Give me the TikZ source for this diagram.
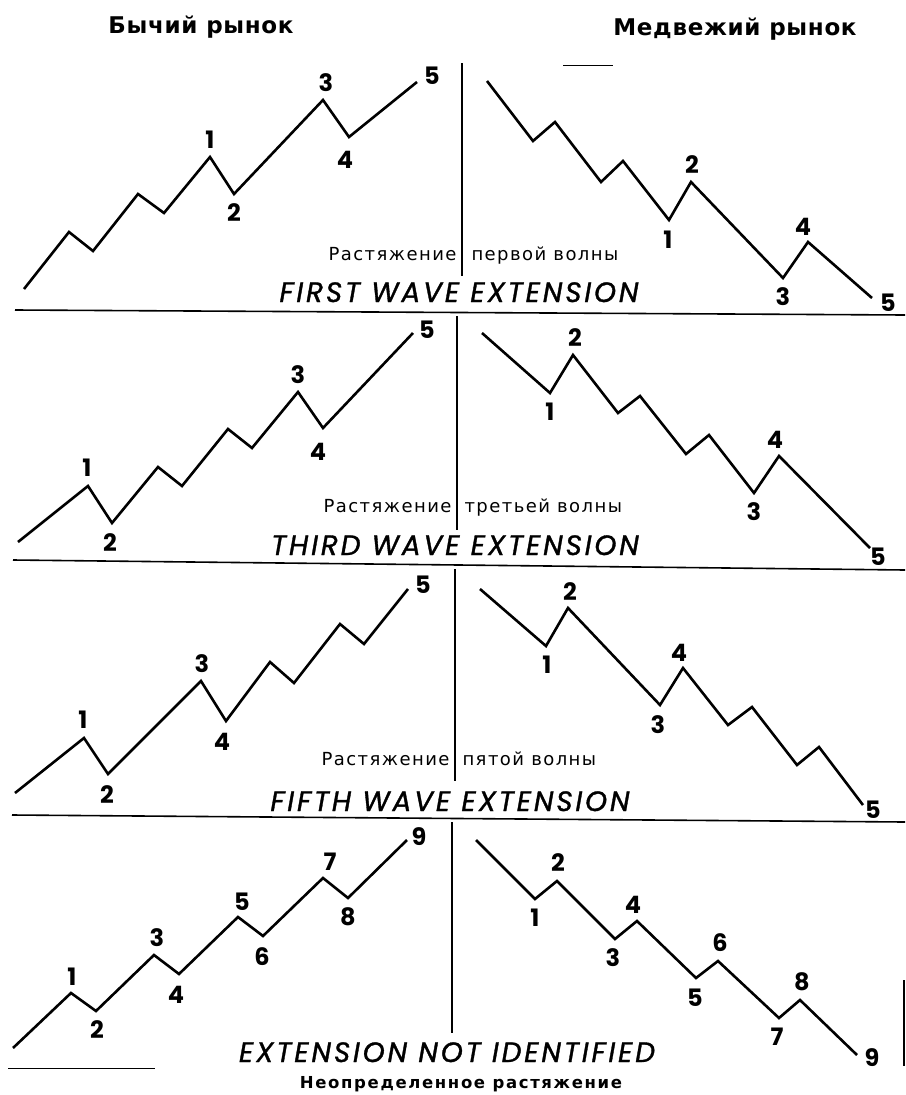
\documentclass[tikz,border=0pt]{standalone}
\usepackage{fontspec}
\setmainfont{Liberation Sans}
\newfontfamily\headfont[LetterSpace=3]{DejaVu Sans}
\newfontfamily\rufont[LetterSpace=8]{DejaVu Sans}
\newfontfamily\footfont[LetterSpace=10]{DejaVu Sans}
\newfontfamily\geofont{Poppins}
\newfontfamily\engfont[LetterSpace=10, ItalicFeatures={FakeBold=1.2}]{Poppins}
\usetikzlibrary{positioning}

\begin{document}
\begin{tikzpicture}[
    x=1pt, y=-1pt,
    wave/.style={line width=2.6pt, line join=miter},
    rule/.style={line width=1.6pt},
    num/.style={font=\geofont\fontsize{24}{24}\selectfont\bfseries, inner sep=0pt},
    head/.style={font=\headfont\fontsize{23}{23}\selectfont\bfseries, anchor=base},
    rus/.style={font=\rufont\fontsize{18}{18}\selectfont},
    eng/.style={font=\engfont\fontsize{28}{28}\selectfont\itshape, anchor=base}
]
  \useasboundingbox (0,0) rectangle (905,1095);

  % Top: market headings
  \node[head] (bull) at (201,33) {Бычий рынок};
  \node[head] (bear) at (735,35) {Медвежий рынок};

  % Row 1: first wave extension
  \draw[wave] (24,289) -- (69,232) -- (93,251) -- (138,194) -- (164,213) -- (210,157)
    -- (234,194) -- (323,100) -- (349,137) -- (417,82);
  \foreach \n/\x/\y in {1/210/140, 2/234/213, 3/326/83, 4/345/160, 5/432/76}
    \node[num] (up1-\n) at (\x,\y) {\n};
  \draw[wave] (487,81) -- (533,141) -- (555,122) -- (601,182) -- (623,161) -- (669,220)
    -- (691,182) -- (783,278) -- (808,242) -- (872,298);
  \foreach \n/\x/\y in {1/668/240, 2/692/165, 3/783/297, 4/803/227, 5/888/303}
    \node[num] (dn1-\n) at (\x,\y) {\n};
  \draw[rule] (462,63) -- (462,276);
  \draw[line width=0.8pt] (563,65) -- (613,65);
  \node[rus, anchor=base east] (cap1a) at (460,260) {Растяжение};
  \node[rus, anchor=base west] (cap1b) at (468,260) {первой волны};
  \node[eng] (ext1) at (459,302) {FIRST WAVE EXTENSION};
  \draw[rule] (15,310) -- (905,315);

  % Row 2: third wave extension
  \draw[wave] (18,542) -- (88,486) -- (112,523) -- (158,467) -- (182,486) -- (228,429)
    -- (252,448) -- (298,392) -- (323,428) -- (413,333);
  \foreach \n/\x/\y in {1/87/468, 2/110/543, 3/298/375, 4/318/452, 5/427/330}
    \node[num] (up2-\n) at (\x,\y) {\n};
  \draw[wave] (482,333) -- (550,393) -- (573,355) -- (618,413) -- (640,396) -- (686,454)
    -- (709,435) -- (754,493) -- (779,456) -- (870,548);
  \foreach \n/\x/\y in {1/550/412, 2/575/338, 3/754/512, 4/775/440, 5/878/557}
    \node[num] (dn2-\n) at (\x,\y) {\n};
  \draw[rule] (457,316) -- (457,530);
  \node[rus, anchor=base east] (cap2a) at (455,512) {Растяжение};
  \node[rus, anchor=base west] (cap2b) at (461,512) {третьей волны};
  \node[eng] (ext2) at (455,555) {THIRD WAVE EXTENSION};
  \draw[rule] (13,560) -- (905,570);

  % Row 3: fifth wave extension
  \draw[wave] (15,793) -- (84,738) -- (108,774) -- (201,681) -- (226,721) -- (270,662)
    -- (294,683) -- (340,624) -- (364,644) -- (408,589);
  \foreach \n/\x/\y in {1/83/720, 2/107/795, 3/202/664, 4/222/742, 5/423/585}
    \node[num] (up3-\n) at (\x,\y) {\n};
  \draw[wave] (480,589) -- (546,646) -- (568,608) -- (660,705) -- (683,668) -- (728,725)
    -- (752,707) -- (797,765) -- (819,747) -- (863,805);
  \foreach \n/\x/\y in {1/547/665, 2/570/592, 3/658/725, 4/679/653, 5/873/810}
    \node[num] (dn3-\n) at (\x,\y) {\n};
  \draw[rule] (455,569) -- (455,781);
  \node[rus, anchor=base east] (cap3a) at (453,765) {Растяжение};
  \node[rus, anchor=base west] (cap3b) at (459,765) {пятой волны};
  \node[eng] (ext3) at (450,811) {FIFTH WAVE EXTENSION};
  \draw[rule] (12,815) -- (905,822);

  % Row 4: extension not identified
  \draw[wave] (13,1048) -- (71,993) -- (96,1011) -- (154,955) -- (179,974) -- (238,917)
    -- (263,936) -- (323,878) -- (348,898) -- (407,840);
  \foreach \n/\x/\y in {1/72/977, 2/97/1030, 3/157/938, 4/176/995, 5/242/902,
                        6/262/957, 7/330/862, 8/348/917, 9/419/837}
    \node[num] (up4-\n) at (\x,\y) {\n};
  \draw[wave] (476,840) -- (535,899) -- (557,881) -- (615,939) -- (637,921) -- (696,978)
    -- (718,961) -- (779,1018) -- (800,1000) -- (857,1055);
  \foreach \n/\x/\y in {1/535/918, 2/558/863, 3/613/958, 4/633/905, 5/695/998,
                        6/720/943, 7/777/1037, 8/802/982, 9/872/1058}
    \node[num] (dn4-\n) at (\x,\y) {\n};
  \draw[rule] (452,822) -- (452,1033);
  \draw[line width=1pt] (8,1068) -- (155,1068);
  \draw[rule] (904,980) -- (904,1066);
  \node[eng] (ext4) at (447,1062) {EXTENSION NOT IDENTIFIED};
  \node[anchor=base, font=\footfont\fontsize{16.5}{16.5}\selectfont\bfseries] (cap4)
    at (461,1088) {Неопределенное растяжение};
\end{tikzpicture}
\end{document}
